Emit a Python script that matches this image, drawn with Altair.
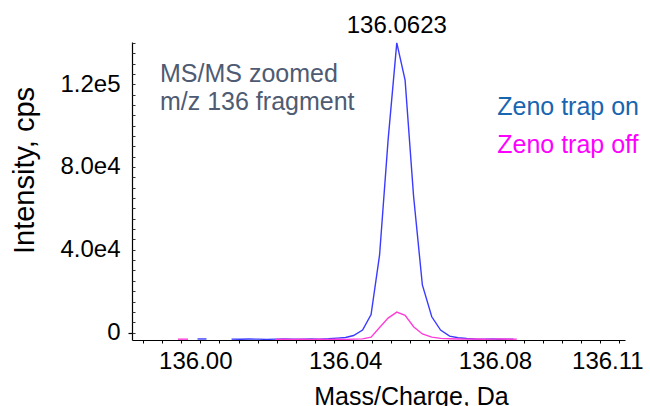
import altair as alt
import pandas as pd

FONT = "Liberation Sans"

# ---------------- data ----------------
# Zeno trap on (blue trace)
on_mz = [136.00059, 136.00299,
         136.00967, 136.01202, 136.01437, 136.01672, 136.01907, 136.02142, 136.02377,
         136.02612, 136.02847, 136.03081, 136.03316, 136.03551, 136.03786, 136.04011,
         136.04224, 136.04465, 136.04692, 136.04919, 136.05146, 136.05378, 136.05600,
         136.05826, 136.06061, 136.06312, 136.06547, 136.06788, 136.07015, 136.07242,
         136.07469, 136.07696, 136.07923, 136.08150, 136.08377, 136.08494]
on_int = [-3100, -3100,
          -3200, -3250, -3150, -3200, -3300, -3200, -3150,
          -3250, -3200, -3100, -3200, -3000, -2700, -2400,
          -1450, 1210, 8700, 37500, 93000, 140000, 122000,
          66000, 23000, 7600, 1200, -1700, -2500, -2900,
          -3100, -3200, -3150, -3250, -3200, -3200]
on_seg = [1] * 2 + [2] * 34

# Zeno trap off (magenta trace)
off_mz = [135.99538, 135.99805,
          136.02142, 136.02377, 136.02612, 136.02847, 136.03081, 136.03316, 136.03551,
          136.03786, 136.04011, 136.04224, 136.04465, 136.04692, 136.04919, 136.05146,
          136.05378, 136.05600, 136.05826, 136.06061, 136.06312, 136.06547, 136.06788,
          136.07015, 136.07242, 136.07469, 136.07696, 136.07923, 136.08150, 136.08377,
          136.08583]
off_int = [-3200, -3200,
           -3300, -3250, -3300, -3250, -3300, -3250, -3300,
           -3250, -3300, -3200, -3050, -2200, 2400, 7000,
           9900, 8300, 2800, -700, -2200, -2800, -3000,
           -3100, -3200, -3150, -3250, -3200, -3150, -3250,
           -3200]
off_seg = [1] * 2 + [2] * 29

series_names = ["Zeno trap on", "Zeno trap off"]
line_colors = ["#3b3bff", "#ff3dd8"]

# axis ticks / labels
x_label_values = [136.00, 136.04, 136.08, 136.11]
x_minor_ticks = [135.98612, 135.99119, 135.99629, 136.00136, 136.00644, 136.01154,
                 136.01661, 136.02168, 136.02676, 136.03186, 136.03693, 136.04200,
                 136.04710, 136.05218, 136.05725, 136.06235, 136.06742, 136.07250,
                 136.07757, 136.08267, 136.08774, 136.09282, 136.09792, 136.10299,
                 136.10806, 136.11316]
y_label_values = [0, 40000, 80000, 120000]
y_minor_ticks = [0, 5000, 10000, 15000, 20000, 25000, 30000, 35000, 40000, 45000,
                 50000, 55000, 60000, 65000, 70000, 75000, 80000, 85000, 90000,
                 95000, 100000, 105000, 110000, 115000, 120000, 125000, 130000,
                 135000, 140000]

x_domain = [135.9831, 136.1147]
y_domain = [-3600, 140400]

# annotations (in data coordinates)
ann_text = ["MS/MS zoomed", "m/z 136 fragment"]
ann_mz = [135.99057, 135.99057]
ann_int = [121000, 107500]

leg_text = ["Zeno trap on", "Zeno trap off"]
leg_mz = [136.08059, 136.08059]
leg_int = [105100, 86800]
leg_color = ["#1865b0", "#ff00ff"]

peak_text = ["136.0623"]
peak_mz = [136.05378]
peak_int = [144900]

# ---------------- frames ----------------
df = pd.concat([
    pd.DataFrame({"mz": on_mz, "intensity": on_int, "seg": on_seg, "series": series_names[0]}),
    pd.DataFrame({"mz": off_mz, "intensity": off_int, "seg": off_seg, "series": series_names[1]}),
], ignore_index=True)
df["key"] = df["series"] + "-" + df["seg"].astype(str)

ann_df = pd.DataFrame({"mz": ann_mz, "intensity": ann_int, "text": ann_text})
leg_df = pd.DataFrame({"mz": leg_mz, "intensity": leg_int, "text": leg_text, "color": leg_color})
peak_df = pd.DataFrame({"mz": peak_mz, "intensity": peak_int, "text": peak_text})

xs = alt.Scale(domain=x_domain, nice=False, zero=False)
ys = alt.Scale(domain=y_domain, nice=False, zero=False)

# main lines with labelled axes
lines = alt.Chart(df).mark_line(strokeWidth=1.4, clip=True).encode(
    x=alt.X("mz:Q", scale=xs, axis=alt.Axis(
        orient="bottom", values=x_label_values, format=".2f", ticks=False, tickSize=0,
        labelPadding=9, labelFontSize=24, labelColor="black", labelFont=FONT,
        labelFlush=False, labelOverlap=False, domainColor="black", domainWidth=1.2,
        grid=False, title="Mass/Charge, Da", titleFontSize=25, titleFont=FONT,
        titleFontWeight="normal", titleColor="black", titleX=279, titleY=64,
        titleBaseline="alphabetic", titleAlign="center")),
    y=alt.Y("intensity:Q", scale=ys, axis=alt.Axis(
        orient="left", values=y_label_values,
        labelExpr="datum.value == 0 ? '0' : replace(format(datum.value, '.1e'), 'e+', 'e')",
        ticks=False, tickSize=0, labelPadding=12, labelFontSize=24, labelColor="black",
        labelFont=FONT, labelFlush=False, labelOverlap=False, domainColor="black",
        domainWidth=1.2, grid=False, title="Intensity, cps", titleFontSize=29,
        titleFont=FONT, titleFontWeight="normal", titleColor="black", titleAngle=270,
        titleX=-99, titleY=128, titleBaseline="alphabetic", titleAlign="center")),
    color=alt.Color("series:N", scale=alt.Scale(domain=series_names, range=line_colors), legend=None),
    detail="key:N",
)

# minor tick axes (invisible marks)
minor = alt.Chart(df).mark_line(strokeOpacity=0).encode(
    x=alt.X("mz:Q", scale=xs, axis=alt.Axis(
        orient="bottom", values=x_minor_ticks, labels=False, domain=False, ticks=True,
        tickSize=3, tickColor="black", tickWidth=1, grid=False, title=None)),
    y=alt.Y("intensity:Q", scale=ys, axis=alt.Axis(
        orient="left", values=y_minor_ticks, labels=False, domain=False, ticks=True,
        tickSize=3, tickColor="#333333", tickWidth=1, grid=False, title=None, offset=-3)),
    detail="key:N",
)

zero_tick = alt.Chart(df).mark_line(strokeOpacity=0).encode(
    x=alt.X("mz:Q", scale=xs, axis=None),
    y=alt.Y("intensity:Q", scale=ys, axis=alt.Axis(
        orient="left", values=[0], labels=False, domain=False, ticks=True,
        tickSize=4, tickColor="black", tickWidth=1.2, grid=False, title=None)),
    detail="key:N",
)

ann = alt.Chart(ann_df).mark_text(
    align="left", baseline="alphabetic", fontSize=25, font=FONT, color="#4e5b72"
).encode(
    x=alt.X("mz:Q", scale=xs, axis=None),
    y=alt.Y("intensity:Q", scale=ys, axis=None),
    text="text:N",
)

leg = alt.Chart(leg_df).mark_text(
    align="left", baseline="alphabetic", fontSize=25, font=FONT
).encode(
    x=alt.X("mz:Q", scale=xs, axis=None),
    y=alt.Y("intensity:Q", scale=ys, axis=None),
    text="text:N",
    color=alt.Color("color:N", scale=None),
)

peak = alt.Chart(peak_df).mark_text(
    align="center", baseline="alphabetic", fontSize=24, font=FONT, color="black"
).encode(
    x=alt.X("mz:Q", scale=xs, axis=None),
    y=alt.Y("intensity:Q", scale=ys, axis=None),
    text="text:N",
)

chart = alt.layer(lines, minor, zero_tick, ann, leg, peak).resolve_axis(
    x="independent", y="independent"
).properties(
    width=493, height=298, autosize=alt.AutoSizeParams(type="none"),
    padding={"left": 132, "top": 42, "right": 25, "bottom": 66},
    background="white",
).configure_view(stroke=None)

chart.save("out.html", embed_options={"renderer": "svg", "actions": False})
